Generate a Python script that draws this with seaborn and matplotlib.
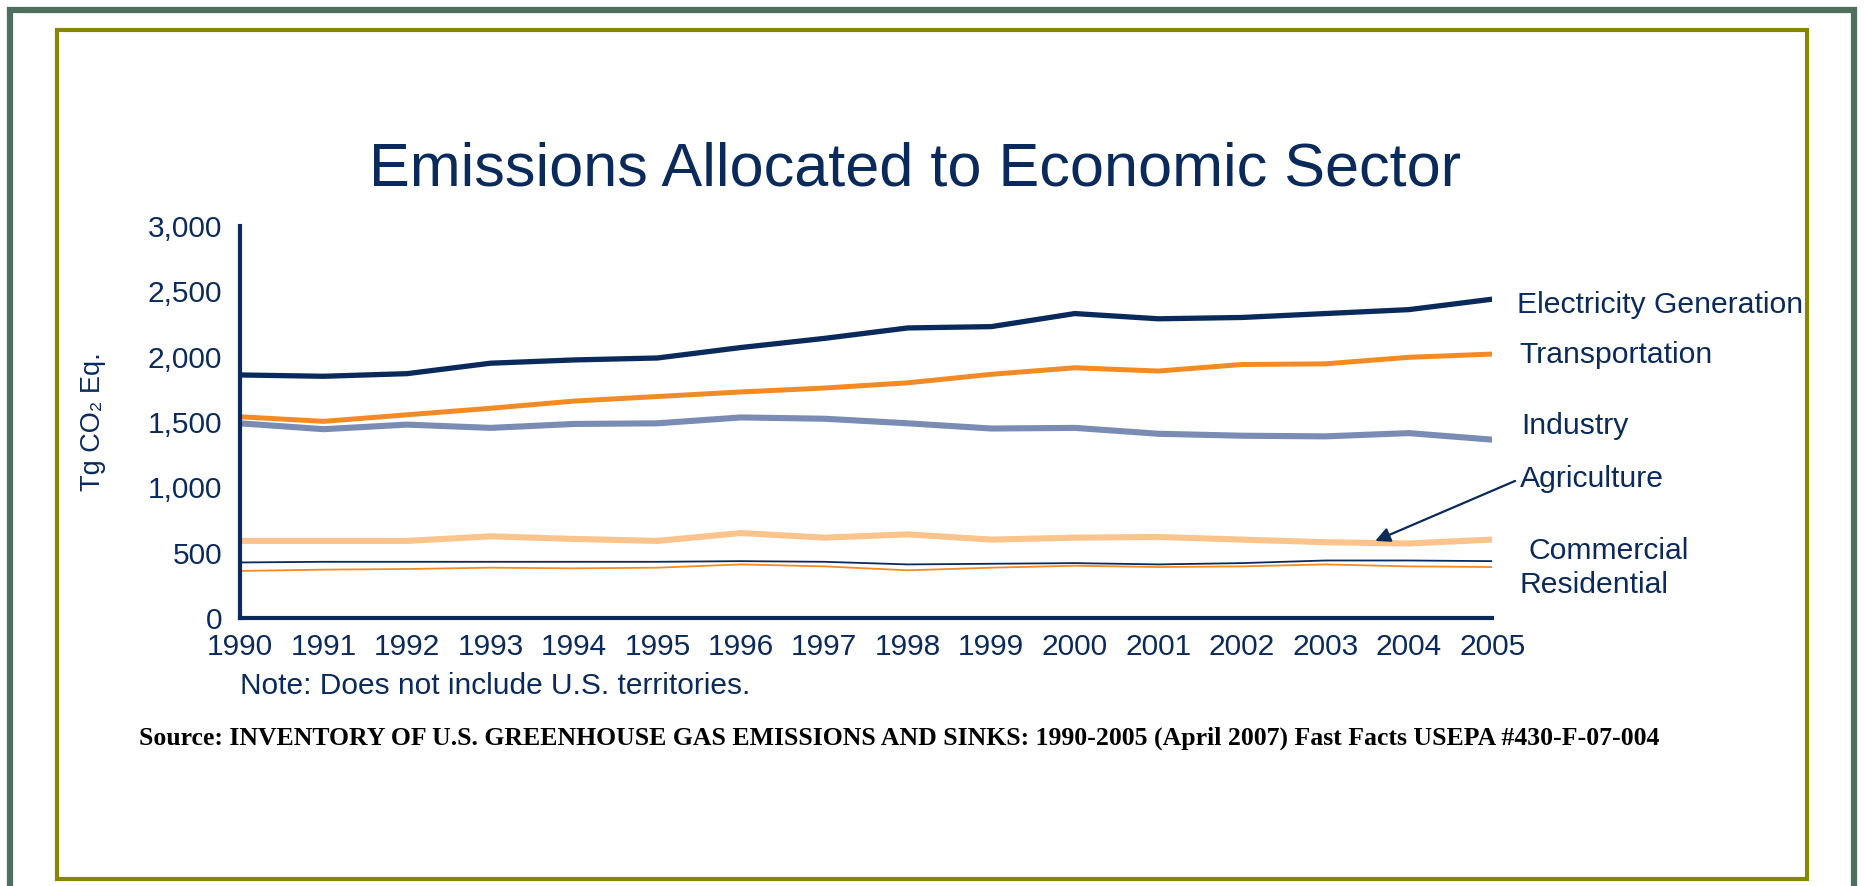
import pandas as pd
import matplotlib
matplotlib.use('Agg')
import matplotlib.pyplot as plt
import seaborn as sns
from matplotlib.patches import Rectangle
from matplotlib.ticker import FuncFormatter

# Values (Tg CO2 Eq.)
years = list(range(1990, 2006))
electricity = [1860, 1850, 1870, 1950, 1975, 1990, 2070, 2140, 2220, 2230, 2330, 2290, 2300, 2330, 2360, 2440]
transportation = [1540, 1505, 1555, 1605, 1660, 1695, 1730, 1760, 1800, 1865, 1915, 1890, 1940, 1945, 1995, 2020]
industry = [1490, 1445, 1480, 1455, 1485, 1490, 1535, 1525, 1490, 1450, 1455, 1410, 1395, 1390, 1415, 1365]
agriculture = [590, 590, 590, 625, 605, 590, 650, 615, 640, 600, 615, 620, 600, 580, 570, 600]
commercial = [425, 430, 430, 430, 430, 430, 435, 430, 410, 415, 420, 410, 420, 440, 440, 435]
residential = [360, 370, 375, 385, 380, 385, 410, 395, 365, 385, 400, 390, 395, 410, 395, 390]

sectors = ['Electricity Generation', 'Transportation', 'Industry', 'Agriculture', 'Commercial', 'Residential']
y_ticks = [0, 500, 1000, 1500, 2000, 2500, 3000]

df = pd.DataFrame({'year': years,
                   'Electricity Generation': electricity,
                   'Transportation': transportation,
                   'Industry': industry,
                   'Agriculture': agriculture,
                   'Commercial': commercial,
                   'Residential': residential})
df = df.melt(id_vars='year', var_name='sector', value_name='value')

navy = '#0b2a5c'
colors = {'Electricity Generation': navy, 'Transportation': '#f28b26', 'Industry': '#7a8cb4',
          'Agriculture': '#fbc48d', 'Commercial': navy, 'Residential': '#f28b26'}
widths = {'Electricity Generation': 3.8, 'Transportation': 3.6, 'Industry': 4.4,
          'Agriculture': 4.4, 'Commercial': 1.3, 'Residential': 1.3}

sns.set_style('white')
plt.rcParams['font.family'] = ['Liberation Sans', 'DejaVu Sans']

fig = plt.figure(figsize=(18.64, 8.86), dpi=100)
ax = fig.add_axes([0.1288, 0.3025, 0.6717, 0.4424])

for s in sectors:
    sns.lineplot(data=df[df['sector'] == s], x='year', y='value', color=colors[s],
                 linewidth=widths[s], ax=ax, solid_capstyle='butt', solid_joinstyle='round')

ax.set_xlim(1990, 2005)
ax.set_ylim(0, 3000)
ax.set_xticks(years)
ax.set_yticks(y_ticks)
ax.yaxis.set_major_formatter(FuncFormatter(lambda v, p: f'{int(v):,}'))
ax.set_xlabel('')
ax.set_ylabel('Tg CO\u2082 Eq.', fontsize=19.5, color=navy)
ax.yaxis.set_label_coords(-0.107, 0.5)

for side in ['top', 'right']:
    ax.spines[side].set_visible(False)
for side in ['left', 'bottom']:
    ax.spines[side].set_color(navy)
    ax.spines[side].set_linewidth(3)
ax.tick_params(axis='both', colors=navy, width=2.5, length=7, labelcolor=navy)
ax.tick_params(axis='x', labelsize=21.5, pad=4)
ax.tick_params(axis='y', labelsize=21.5, pad=6)

# line labels on the right
label_pos = {'Electricity Generation': (2005.3, 2395), 'Transportation': (2005.33, 2013),
             'Industry': (2005.35, 1469), 'Commercial': (2005.43, 513), 'Residential': (2005.33, 253)}
for s, (lx, ly) in label_pos.items():
    ax.text(lx, ly, s, fontsize=21.7, color=navy, ha='left', va='center', clip_on=False)
ax.annotate('Agriculture', xy=(2003.6, 590), xytext=(2005.33, 1064), fontsize=21.7, color=navy,
            ha='left', va='center', annotation_clip=False,
            arrowprops=dict(arrowstyle='-|>', color=navy, lw=1.6, mutation_scale=22,
                            relpos=(0, 0.5), shrinkA=1, shrinkB=0))

fig.text(0.491, 0.808, 'Emissions Allocated to Economic Sector', fontsize=44, color=navy,
         ha='center', va='center')
fig.text(0.1288, 0.2257, 'Note: Does not include U.S. territories.', fontsize=21.5, color=navy,
         ha='left', va='center')
fig.text(0.0746, 0.167,
         'Source: INVENTORY OF U.S. GREENHOUSE GAS EMISSIONS AND SINKS: 1990-2005 (April 2007) Fast Facts USEPA #430-F-07-004',
         fontsize=18.5, color='black', fontweight='bold', family=['Liberation Serif', 'DejaVu Serif'],
         ha='left', va='center')

# page frames
fig.add_artist(Rectangle((0.0054, -0.05), 0.9892, 1.0387, transform=fig.transFigure,
                         fill=False, edgecolor='#4e6e5e', linewidth=4.5))
fig.add_artist(Rectangle((0.0306, 0.0079), 0.9388, 0.9582, transform=fig.transFigure,
                         fill=False, edgecolor='#878700', linewidth=3))

fig.savefig('out.png', dpi=100, facecolor='white')
